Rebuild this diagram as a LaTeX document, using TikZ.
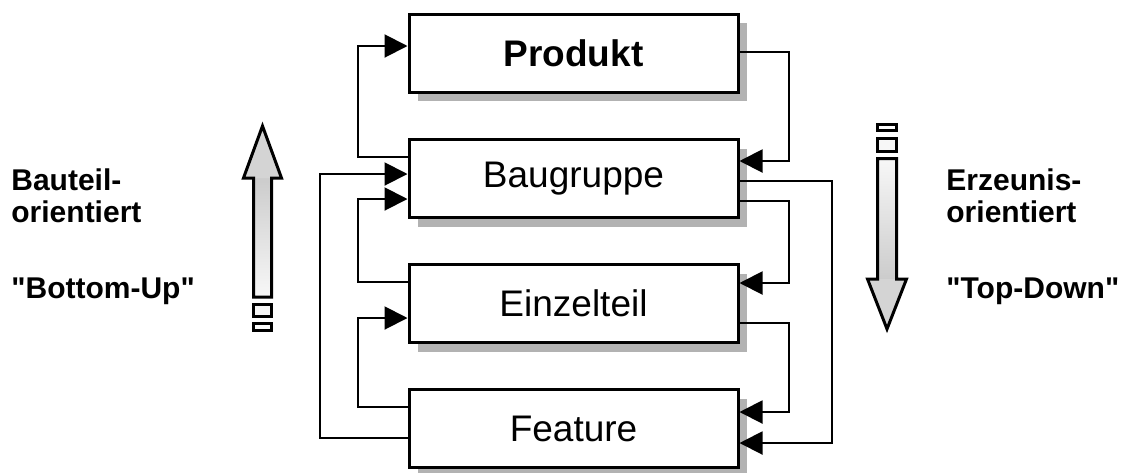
\documentclass[tikz,border=0pt]{standalone}
\usepackage{fontspec}
\setmainfont{Liberation Sans}
\usetikzlibrary{arrows.meta,shadows}
\begin{document}
\begin{tikzpicture}[x=0.5pt,y=-0.5pt,
  box/.style={draw,line width=1.5pt,fill=white,minimum width=164.5pt,minimum height=39pt,inner sep=0pt,
    font=\fontsize{18.5}{21}\selectfont,
    drop shadow={shadow xshift=4.5pt,shadow yshift=-4.5pt,fill=black!30,opacity=1}},
  conn/.style={line width=1pt,-{Triangle[length=11.5pt,width=11.5pt]}},
  side/.style={anchor=base west,inner sep=0pt,font=\bfseries\fontsize{15}{18}\selectfont},
  big/.style={line width=1.5pt,line join=miter}]
\useasboundingbox (0,0) rectangle (1134,472);

% boxes
\node[box,font=\bfseries\fontsize{18.5}{21}\selectfont] (P) at (573.5,53) {Produkt};
\node[box] (B) at (573.5,178.5) {Baugruppe};
\node[box] (E) at (573.5,303.5) {Einzelteil};
\node[box] (F) at (573.5,428.5) {Feature};

% left connectors (bottom-up)
\draw[conn] ([yshift=11pt]B.west) -- ++(-50,0) |- ([yshift=3.5pt]P.west);
\draw[conn] ([yshift=-4.75pt]F.west) -- ++(-88,0) |- ([yshift=2.25pt]B.west);
\draw[conn] ([yshift=10.75pt]E.west) -- ++(-50,0) |- ([yshift=-10.25pt]B.west);
\draw[conn] ([yshift=10.75pt]F.west) -- ++(-50,0) |- ([yshift=-7.25pt]E.west);

% right connectors (top-down)
\draw[conn] ([yshift=0.5pt]P.east) -- ++(49,0) |- ([yshift=8.75pt]B.east);
\draw[conn] ([yshift=-1.25pt]B.east) -- ++(92,0) |- ([yshift=-7.25pt]F.east);
\draw[conn] ([yshift=-11.25pt]B.east) -- ++(49,0) |- ([yshift=10.25pt]E.east);
\draw[conn] ([yshift=-9.75pt]E.east) -- ++(49,0) |- ([yshift=8.25pt]F.east);

% big up arrow (left)
\shade[top color=black!20,bottom color=black!3] (253.5,178) rectangle (271.5,297);
\fill[black!17] (262.5,126) -- (281.5,178) -- (243.5,178) -- cycle;
\draw[big] (262.5,126) -- (281.5,178) -- (271.5,178) -- (271.5,297) -- (253.5,297) -- (253.5,178) -- (243.5,178) -- cycle;
\draw[big,fill=black!3] (253.5,304.5) rectangle (271.5,316.5);
\draw[big,fill=white] (253.5,323.5) rectangle (271.5,330.5);

% big down arrow (right)
\draw[big,fill=white] (877.5,124.5) rectangle (896.5,130.5);
\draw[big,fill=black!3] (877.5,138.5) rectangle (896.5,151.5);
\shade[top color=black!3,bottom color=black!20] (877.5,158.5) rectangle (896.5,279);
\fill[black!17] (867.5,279) -- (906.5,279) -- (887,329) -- cycle;
\draw[big] (877.5,158.5) -- (896.5,158.5) -- (896.5,279) -- (906.5,279) -- (887,329) -- (867.5,279) -- (877.5,279) -- cycle;

% side texts
\node[side] (l1) at (11,190) {Bauteil-};
\node[side] (l2) at (11,222) {orientiert};
\node[side] (l3) at (11,298) {\textquotedbl Bottom-Up\textquotedbl};
\node[side] (r1) at (946,190) {Erzeunis-};
\node[side] (r2) at (946,222) {orientiert};
\node[side] (r3) at (946,298) {\textquotedbl Top-Down\textquotedbl};
\end{tikzpicture}
\end{document}
